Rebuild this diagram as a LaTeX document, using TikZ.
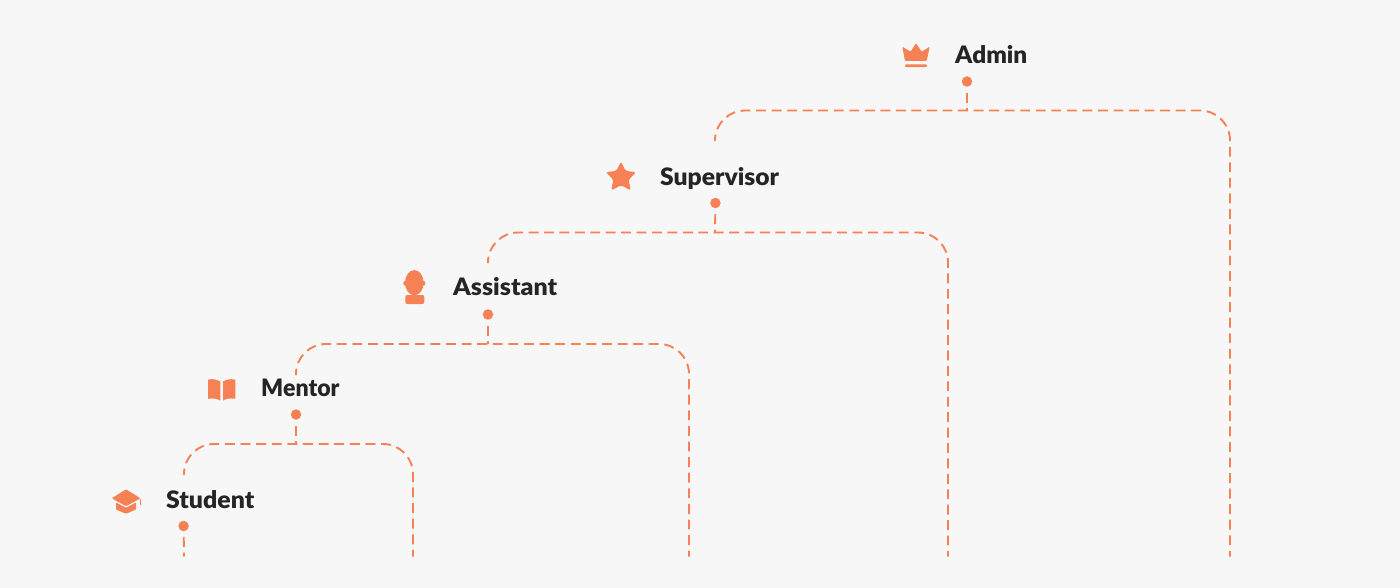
\documentclass[tikz,border=0pt]{standalone}
\usepackage{fontspec}
\usepackage{graphicx}
\setmainfont{Lato}[BoldFont={Lato Black}]
\definecolor{bgc}{HTML}{F7F7F7}
\definecolor{acc}{HTML}{F68155}
\definecolor{ink}{HTML}{252525}
\tikzset{
  rolelabel/.style={anchor=base west,inner sep=0pt,text=ink,font=\fontsize{24}{26}\selectfont\bfseries},
  dotnode/.style={circle,fill=acc,draw=none,minimum size=10.5pt,inner sep=0pt},
  link/.style={draw=acc,line width=1.9pt,dash pattern=on 10pt off 5.6pt},
  stem/.style={link,dash phase=10pt},
  bracket/.style={draw=acc,line width=1.9pt,rounded corners=30pt,dash pattern=on 9.9pt off #1,dash phase=3.5pt},
  icon/.style={fill=acc,draw=none}
}
\begin{document}
\begin{tikzpicture}[x=1pt,y=-1pt]
\useasboundingbox (0,0) rectangle (1400,588);
\fill[bgc] (0,0) rectangle (1400,588);

% labels
\node[rolelabel] (admin) at (955,63.2) {\scalebox{1.014}[1]{Admin}};
\node[rolelabel] (supervisor) at (660,185.2) {\scalebox{1.026}[1]{Supervisor}};
\node[rolelabel] (assistant) at (453,295) {\scalebox{1.04}[1]{Assistant}};
\node[rolelabel] (mentor) at (261,396) {\scalebox{0.963}[1]{Mentor}};
\node[rolelabel] (student) at (166,508.3) {\scalebox{1.035}[1]{Student}};

% dots
\node[dotnode] (dA) at (967,81.5) {};
\node[dotnode] (dS) at (715.4,203) {};
\node[dotnode] (dT) at (488,314.5) {};
\node[dotnode] (dM) at (296,414.5) {};
\node[dotnode] (dU) at (183.6,526) {};

% junctions and free ends
\coordinate (jA) at (967,110);
\coordinate (lA) at (715,141);
\coordinate (cAl) at (715,110.5);
\coordinate (cAr) at (1230,110.5);
\coordinate (bA) at (1230,556.5);

\coordinate (jS) at (715,232);
\coordinate (lS) at (488,263);
\coordinate (cSl) at (488,232.5);
\coordinate (cSr) at (948,232.5);
\coordinate (bS) at (948,556.5);

\coordinate (jT) at (488,344);
\coordinate (lT) at (296,375);
\coordinate (cTl) at (296,344);
\coordinate (cTr) at (689,344);
\coordinate (bT) at (689,556.5);

\coordinate (jM) at (296,444);
\coordinate (lM) at (184,475);
\coordinate (cMl) at (184,444);
\coordinate (cMr) at (413,444);
\coordinate (bM) at (413,556.5);

\coordinate (bU) at (184,556.5);

% stems
\draw[stem] (dA) -- (jA);
\draw[stem] (dS) -- (jS);
\draw[stem] (dT) -- (jT);
\draw[stem] (dM) -- (jM);
\draw[stem] (dU) -- (bU);

% brackets
\draw[bracket=5.64pt] (lA) -- (cAl) -- (cAr) -- (bA);
\draw[bracket=5.525pt] (lS) -- (cSl) -- (cSr) -- (bS);
\draw[bracket=5.7pt] (lT) -- (cTl) -- (cTr) -- (bT);
\draw[bracket=5.72pt] (lM) -- (cMl) -- (cMr) -- (bM);

% crown
\fill[icon,rounded corners=1pt] (905,61) -- (902.3,46.7) -- (910.5,51.7) -- (916,43.3) -- (921.7,51.7) -- (929.7,46.7) -- (926.7,61) -- cycle;
\fill[icon,rounded corners=1pt] (905,64.4) rectangle (927,67.2);

% star
\fill[icon,rounded corners=1.8pt]
  (621,161.5) -- (625.6,170.9) -- (636.3,172.2) -- (628.6,179.6) -- (630.8,190.5)
  -- (621,185.2) -- (611.2,190.5) -- (613.4,179.6) -- (605.7,172.2) -- (616.4,170.9) -- cycle;

% person
\fill[icon] (414.3,282.7) ellipse [x radius=9.3,y radius=12.6];
\fill[icon] (405,283.3) ellipse [x radius=1.7,y radius=2.4];
\fill[icon] (423.7,283.3) ellipse [x radius=1.7,y radius=2.4];
\fill[icon,rounded corners=2pt] (405.3,295) rectangle (424.3,304);

% book
\fill[icon] (208,379.6) .. controls (213,378.6) and (217,379.6) .. (220.3,381.5) -- (220.3,400.5) .. controls (217,398.6) and (213,398) .. (208,398.8) -- cycle;
\fill[icon] (235.3,379.6) .. controls (230.3,378.6) and (226.3,379.6) .. (223,381.5) -- (223,400.5) .. controls (226.3,398.6) and (230.3,398) .. (235.3,398.8) -- cycle;

% mortarboard
\fill[icon,rounded corners=1pt] (111.7,498.3) -- (126,489.3) -- (140.5,498.3) -- (126,506.2) -- cycle;
\fill[icon,rounded corners=0.8pt] (116,502.5) -- (126,507.8) -- (136,502.5) -- (136,509.5) -- (126,513.8) -- (116,509.5) -- cycle;
\fill[icon] (139.5,498.5) rectangle (140.8,504.5);
\end{tikzpicture}
\end{document}
